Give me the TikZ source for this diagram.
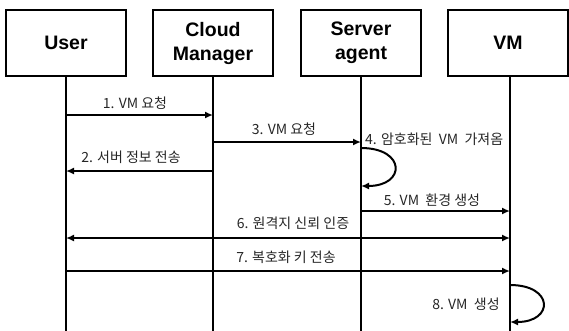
\documentclass[tikz,border=0pt]{standalone}
\usepackage{fontspec}
\setmainfont{Liberation Sans}
\newfontfamily\kr{Noto Sans CJK KR}
\usetikzlibrary{arrows.meta}
\begin{document}
\begin{tikzpicture}[x=1pt,y=-1pt,
  actor/.style={draw,line width=2.4pt,minimum width=120pt,minimum height=66pt,inner sep=0pt,
    align=center,font=\fontsize{19.5}{24}\selectfont\bfseries},
  life/.style={line width=2.4pt},
  msg/.style={line width=2pt,-{Latex[length=8pt,width=7pt]}},
  msgb/.style={line width=2pt,{Latex[length=8pt,width=7pt]}-{Latex[length=8pt,width=7pt]}},
  lbl/.style={font=\kr\fontsize{14}{16}\selectfont,inner sep=0pt,text=black!85}]
\useasboundingbox (0,0) rectangle (569,330);
% actors
\node[actor] (user) at (66,43) {User};
\node[actor] (cloud) at (213,43) {Cloud\\Manager};
\node[actor] (server) at (361,43) {Server\\agent};
\node[actor] (vm) at (508,43) {VM};
% lifeline ends
\coordinate (ue) at (66,332);
\coordinate (ce) at (213,332);
\coordinate (se) at (361,332);
\coordinate (ve) at (510,332);
\draw[life] (user.south) -- (ue);
\draw[life] (cloud.south) -- (ce);
\draw[life] (server.south) -- (se);
\draw[life] (vm.south -| ve) -- (ve);
% message points
\coordinate (u1) at (66,115);  \coordinate (c1) at (213,115);
\coordinate (c3) at (213,142); \coordinate (s3) at (361,142);
\coordinate (c2) at (213,171); \coordinate (u2) at (66,171);
\coordinate (s4a) at (361,148); \coordinate (s4b) at (361,186);
\coordinate (s5) at (361,211); \coordinate (v5) at (510,211);
\coordinate (u6) at (66,238); \coordinate (v6) at (510,238);
\coordinate (u7) at (66,271); \coordinate (v7) at (510,271);
\coordinate (v8a) at (510,285); \coordinate (v8b) at (510,322);
% messages
\draw[msg] (u1) -- (c1);
\draw[msg] (c3) -- (s3);
\draw[msg] (c2) -- (u2);
\draw[msg] (s4a) .. controls +(45,0) and +(45,0) .. (s4b);
\draw[msg] (s5) -- (v5);
\draw[msgb] (u6) -- (v6);
\draw[msg] (u7) -- (v7);
\draw[msg] (v8a) .. controls +(44,0) and +(44,0) .. (v8b);
% labels
\node[lbl] (l1) at (135,103) {1. VM 요청};
\node[lbl] (l3) at (284,129) {3. VM 요청};
\node[lbl] (l2) at (131,157) {2. 서버 정보 전송};
\node[lbl,anchor=west] (l4) at (365,139) {4. 암호화된 \ VM \ 가져옴};
\node[lbl] (l5) at (432,200) {5. VM \ 환경 생성};
\node[lbl] (l6) at (293,223) {6. 원격지 신뢰 인증};
\node[lbl] (l7) at (286,257) {7. 복호화 키 전송};
\node[lbl] (l8) at (466,304) {8. VM \ 생성};
\end{tikzpicture}
\end{document}
